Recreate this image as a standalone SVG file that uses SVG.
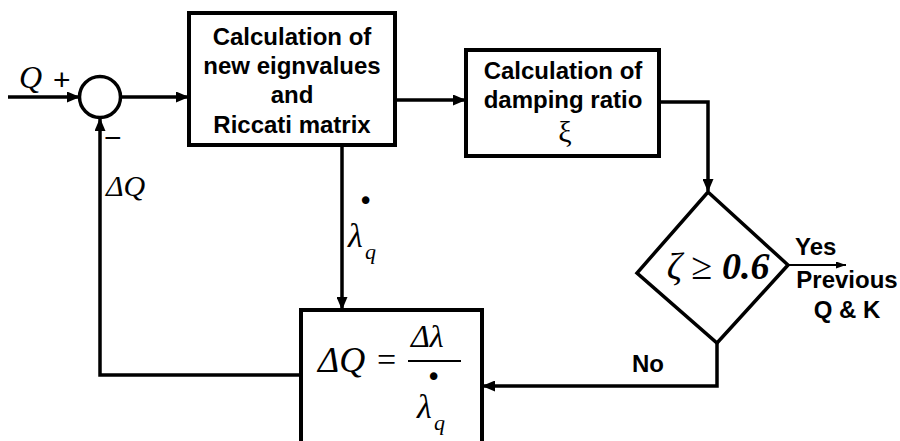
<svg xmlns="http://www.w3.org/2000/svg" width="900" height="441" viewBox="0 0 900 441">
<defs>
<marker id="arr" markerUnits="userSpaceOnUse" markerWidth="13" markerHeight="11" refX="12" refY="5.5" orient="auto">
<path d="M0,0 L13,5.5 L0,11 z" fill="#000"/>
</marker>
<marker id="arrThin" markerUnits="userSpaceOnUse" markerWidth="10" markerHeight="7" refX="10" refY="3.5" orient="auto">
<path d="M0,0 L10,3.5 L0,7 z" fill="#000"/>
</marker>
</defs>
<style>
.box{fill:#fff;stroke:#000;stroke-width:4}
.con{fill:none;stroke:#000;stroke-width:3.5}
.thin{fill:none;stroke:#000;stroke-width:1.8}
.lbl{font-family:"Liberation Sans",Arial,sans-serif;font-weight:bold;font-size:24px;fill:#000}
.sign{font-family:"Liberation Sans",Arial,sans-serif;font-size:30px;fill:#000}
.math{font-family:"Liberation Serif","Times New Roman",serif;font-style:italic;fill:#000}
.rm{font-family:"Liberation Serif","Times New Roman",serif;fill:#000}
.dot{font-family:"DejaVu Sans",sans-serif;font-size:26px;fill:#000}
</style>
<rect width="900" height="441" fill="#fff"/>

<g id="connectors">
<line class="con" x1="8" y1="97" x2="79" y2="97" marker-end="url(#arr)"/>
<line class="con" x1="121" y1="97" x2="188" y2="97" marker-end="url(#arr)"/>
<line class="con" x1="395" y1="100" x2="465" y2="100" marker-end="url(#arr)"/>
<path class="con" d="M659,102 H708 V191" marker-end="url(#arr)"/>
<path class="con" d="M342,145 V309" marker-end="url(#arr)"/>
<path class="con" d="M717,343 V386 H483" marker-end="url(#arr)"/>
<path class="con" d="M301,375 H100 V119" marker-end="url(#arr)"/>
<line class="thin" x1="788" y1="265" x2="846" y2="265" marker-end="url(#arrThin)"/>
</g>

<g id="sum">
<circle cx="100" cy="97" r="20.5" fill="#fff" stroke="#000" stroke-width="3.5"/>
<text class="math" x="19" y="88" font-size="32">Q</text>
<text class="sign" x="53" y="90">+</text>
<text class="sign" x="104" y="148">−</text>
</g>

<g id="box1">
<rect class="box" x="189" y="13" width="206" height="132"/>
<text class="lbl" x="292" y="45" text-anchor="middle">Calculation of</text>
<text class="lbl" x="292" y="74" text-anchor="middle">new eignvalues</text>
<text class="lbl" x="292" y="103" text-anchor="middle">and</text>
<text class="lbl" x="292" y="133" text-anchor="middle">Riccati matrix</text>
</g>

<g id="box2">
<rect class="box" x="466" y="50" width="193" height="106"/>
<text class="lbl" x="563" y="79" text-anchor="middle">Calculation of</text>
<text class="lbl" x="563" y="108" text-anchor="middle">damping ratio</text>
<text class="rm" x="565" y="142" font-size="30" text-anchor="middle">ξ</text>
</g>

<g id="decision">
<polygon points="708,192 788,265 717,343 637,273" fill="#fff" stroke="#000" stroke-width="3.5" stroke-linejoin="miter"/>
<text x="718" y="279" font-size="38" text-anchor="middle" class="rm"><tspan font-style="italic">ζ</tspan> ≥ <tspan font-style="italic" font-weight="bold">0.6</tspan></text>
</g>

<g id="labels">
<text class="lbl" x="795" y="255" font-size="23">Yes</text>
<text class="lbl" x="847" y="288" font-size="23" text-anchor="middle">Previous</text>
<text class="lbl" x="847" y="318" font-size="23" text-anchor="middle">Q &amp; K</text>
<text class="lbl" x="632" y="372" font-size="25">No</text>
<text class="math" x="106" y="196" font-size="30">ΔQ</text>
<text class="dot" x="358" y="210">•</text>
<text class="math" x="348" y="247" font-size="34">λ</text>
<text class="math" x="365" y="259" font-size="22">q</text>
</g>

<g id="box3">
<rect class="box" x="301" y="310" width="181" height="140"/>
<text class="math" x="318" y="372" font-size="36">ΔQ</text>
<text class="rm" x="377" y="371" font-size="34">=</text>
<line x1="408" y1="361" x2="461" y2="361" stroke="#000" stroke-width="2"/>
<text class="math" x="411" y="347" font-size="32">Δλ</text>
<text class="dot" x="426" y="386">•</text>
<text class="math" x="417" y="418" font-size="34">λ</text>
<text class="math" x="434" y="430" font-size="22">q</text>
</g>
</svg>
